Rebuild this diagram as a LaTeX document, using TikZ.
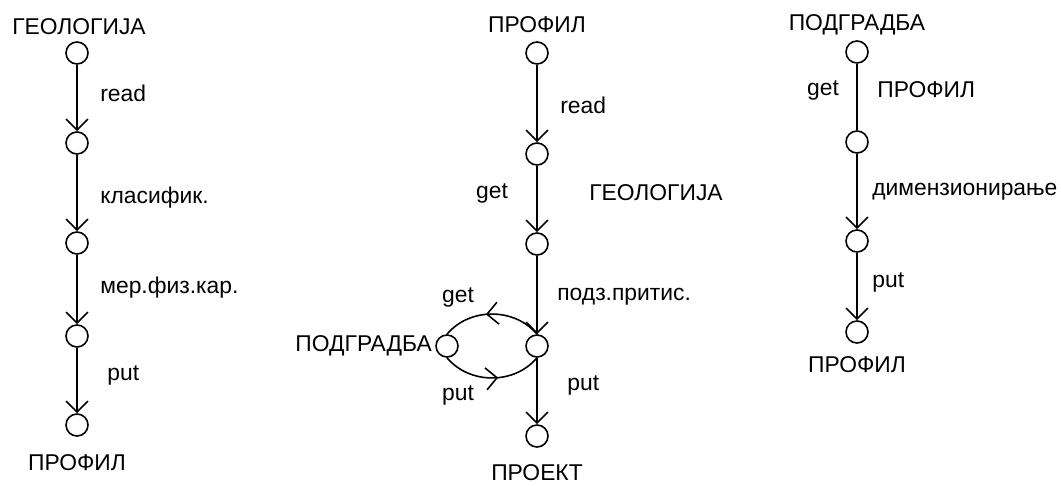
\documentclass[tikz,border=0pt]{standalone}
\usepackage{fontspec}
\setmainfont{Liberation Sans}
\usetikzlibrary{arrows.meta,decorations.markings}

\tikzset{
  pt/.style={circle, draw, line width=0.9pt, minimum size=0.44cm, inner sep=0pt},
  lbl/.style={font=\fontsize{13}{15}\selectfont, inner sep=0pt},
  arr/.style={line width=0.9pt, -{Straight Barb[length=0.22cm,width=0.44cm]}},
  ln/.style={line width=0.9pt},
  midarr/.style={line width=0.9pt, postaction={decorate},
    decoration={markings, mark=at position 0.56 with {\arrow{Straight Barb[length=0.22cm,width=0.44cm]}}}}
}

\begin{document}
\begin{tikzpicture}[x=0.02cm, y=-0.02cm]
\useasboundingbox (0,0) rectangle (1061,486);

% left column
\node[pt] (g1) at (77,53) {};
\node[pt] (g2) at (77,143) {};
\node[pt] (g3) at (77,243) {};
\node[pt] (g4) at (77,336) {};
\node[pt] (g5) at (77,425) {};
\node[lbl] (gtop) at (79,27) {ГЕОЛОГИЈА};
\node[lbl, anchor=west] (gread) at (100,93) {read};
\node[lbl, anchor=west] (gkl) at (100,198) {класифик.};
\node[lbl, anchor=west] (gmer) at (100,288) {мер.физ.кар.};
\node[lbl, anchor=west] (gput) at (107,375) {put};
\node[lbl] (gbot) at (77,463) {ПРОФИЛ};
\draw[arr] (g1)--(g2);
\draw[arr] (g2)--(g3);
\draw[arr] (g3)--(g4);
\draw[arr] (g4)--(g5);

% middle column
\node[pt] (p1) at (537,53) {};
\node[pt] (p2) at (537,154) {};
\node[pt] (p3) at (537,244) {};
\node[pt] (p4) at (537,346) {};
\node[pt] (p5) at (537,436) {};
\node[pt] (ps) at (447,346) {};
\node[lbl] (ptop) at (537,25) {ПРОФИЛ};
\node[lbl, anchor=west] (pread) at (560,105) {read};
\node[lbl] (pget) at (492,193) {get};
\node[lbl] (pgeo) at (656,193) {ГЕОЛОГИЈА};
\node[lbl, anchor=west] (ppod) at (557,297) {подз.притис.};
\node[lbl] (lget) at (458,297) {get};
\node[lbl] (lput) at (458,395) {put};
\node[lbl, anchor=east] (psl) at ([xshift=-0.06cm]ps.west) {ПОДГРАДБА};
\node[lbl, anchor=west] (pput) at (567,385) {put};
\node[lbl] (pbot) at (537,473) {ПРОЕКТ};
\draw[arr] (p1)--(p2);
\draw[arr] (p2)--(p3);
\draw[arr] (p3)--(p4);
\draw[arr] (p4)--(p5);
\draw[midarr] (p4.north) to[out=130,in=50] (ps.north);
\draw[midarr] (ps.south) to[out=-50,in=-130] (p4.south);

% right column
\node[pt] (d1) at (857,52) {};
\node[pt] (d2) at (857,142) {};
\node[pt] (d3) at (857,241) {};
\node[pt] (d4) at (857,332) {};
\node[lbl] (dtop) at (857,25) {ПОДГРАДБА};
\node[lbl] (dget) at (823,90) {get};
\node[lbl, anchor=west] (dprof) at (877,90) {ПРОФИЛ};
\node[lbl, anchor=west] (ddim) at (872,192) {димензионирање};
\node[lbl, anchor=west] (dput) at (872,282) {put};
\node[lbl] (dbot) at (857,365) {ПРОФИЛ};
\draw[ln] (d1)--(d2);
\draw[arr] (d2)--(d3);
\draw[arr] (d3)--(d4);
\end{tikzpicture}
\end{document}
